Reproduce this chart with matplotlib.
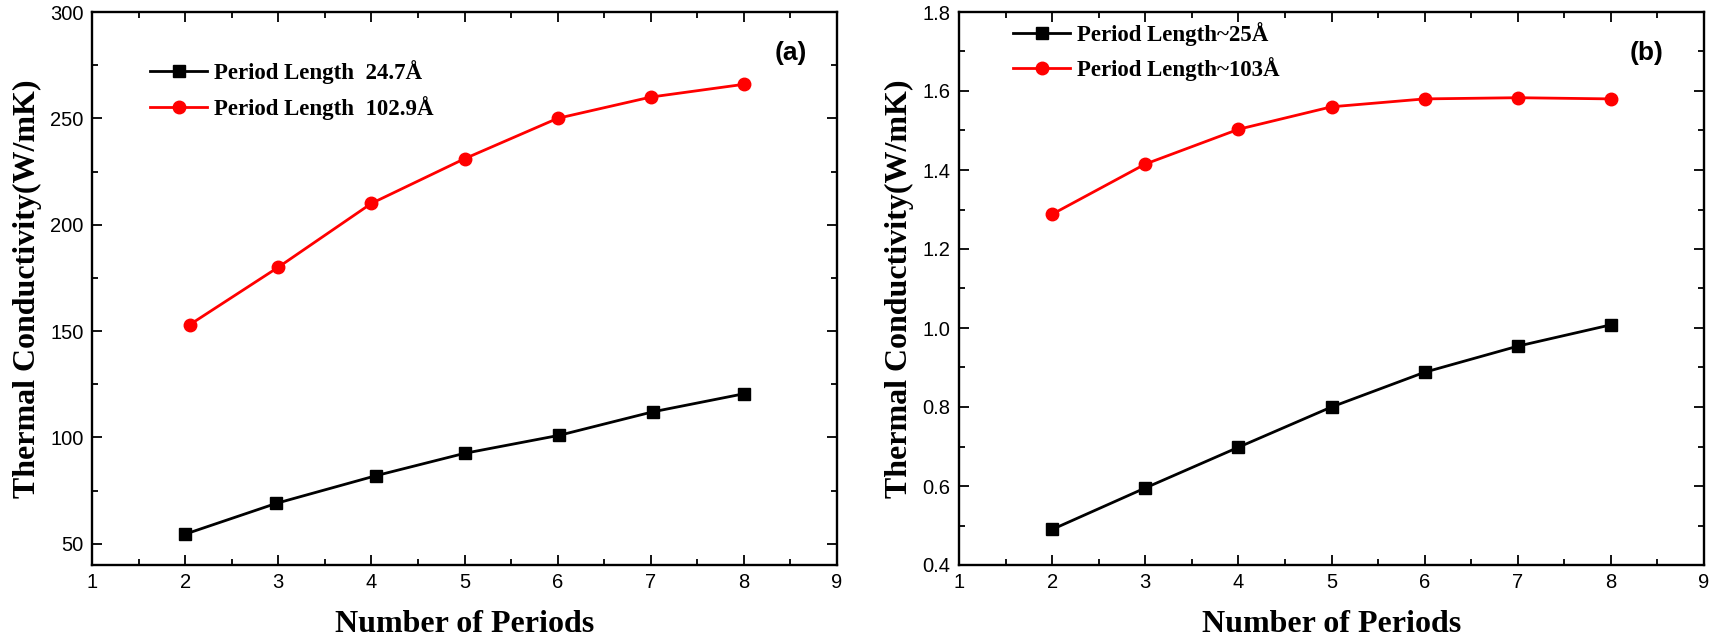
import numpy as np
import matplotlib
matplotlib.use("Agg")
from matplotlib import pyplot as plt
from matplotlib.ticker import MultipleLocator, FormatStrFormatter

# %% data
periods_a_black = [2, 2.98, 4.05, 5, 6.02, 7.02, 8]
periods_a_red = [2.05, 3, 4, 5, 6, 7, 8]
tc_a_black = [54.5, 69, 82, 92.5, 101, 112, 120.5]
tc_a_red = [153, 180, 210, 231, 250, 260, 266]

periods_b = [2, 3, 4, 5, 6, 7, 8]
tc_b_black = [0.49, 0.595, 0.698, 0.80, 0.888, 0.954, 1.008]
tc_b_red = [1.288, 1.415, 1.503, 1.560, 1.580, 1.583, 1.580]

labels_a = ["Period Length  24.7\u00c5", "Period Length  102.9\u00c5"]
labels_b = ["Period Length~25\u00c5", "Period Length~103\u00c5"]

# %% figure
W, H = 1713, 643
fig = plt.figure(figsize=(W / 100, H / 100), dpi=100)
ax1 = fig.add_axes([92 / W, (H - 565) / H, 745 / W, 553 / H])
ax2 = fig.add_axes([959 / W, (H - 565) / H, 745 / W, 553 / H])

serif_bold = dict(family="Liberation Serif", weight="bold")
line_kw = dict(lw=2, markersize=9)
legend_font = dict(family="Liberation Serif", weight="bold", size=16.5)


def style(ax, ylim, ymajor, yminor):
    ax.set_xlim(1, 9)
    ax.set_ylim(*ylim)
    ax.xaxis.set_major_locator(MultipleLocator(1))
    ax.xaxis.set_minor_locator(MultipleLocator(0.5))
    ax.yaxis.set_major_locator(MultipleLocator(ymajor))
    ax.yaxis.set_minor_locator(MultipleLocator(yminor))
    ax.tick_params(which="both", direction="in", top=True, right=True,
                   width=1.3, labelsize=14.5, labelfontfamily="Liberation Sans")
    ax.tick_params(which="major", length=7, pad=6)
    ax.tick_params(which="minor", length=4)
    for sp in ax.spines.values():
        sp.set_linewidth(1.7)
    ax.set_xlabel("Number of Periods", fontsize=23, labelpad=13, **serif_bold)
    ax.set_ylabel("Thermal Conductivity(W/mK)", fontsize=23, labelpad=6, **serif_bold)


ax1.plot(periods_a_black, tc_a_black, "s-", color="black", label=labels_a[0], **line_kw)
ax1.plot(periods_a_red, tc_a_red, "o-", color="red", label=labels_a[1], **line_kw)
style(ax1, (40, 300), 50, 25)
ax1.legend(loc="upper left", bbox_to_anchor=(0.05, 0.95), frameon=False,
           prop=legend_font, handlelength=2.5, labelspacing=0.5, handletextpad=0.3)
ax1.text(0.96, 0.925, "(a)", transform=ax1.transAxes, ha="right", va="center",
         fontsize=19, fontweight="bold", family="Liberation Sans")

ax2.plot(periods_b, tc_b_black, "s-", color="black", label=labels_b[0], **line_kw)
ax2.plot(periods_b, tc_b_red, "o-", color="red", label=labels_b[1], **line_kw)
style(ax2, (0.4, 1.8), 0.2, 0.1)
ax2.yaxis.set_major_formatter(FormatStrFormatter("%.1f"))
ax2.legend(loc="upper left", bbox_to_anchor=(0.045, 1.02), frameon=False,
           prop=legend_font, handlelength=2.5, labelspacing=0.5, handletextpad=0.3)
ax2.text(0.945, 0.925, "(b)", transform=ax2.transAxes, ha="right", va="center",
         fontsize=19, fontweight="bold", family="Liberation Sans")

fig.savefig("out.png", dpi=100)
